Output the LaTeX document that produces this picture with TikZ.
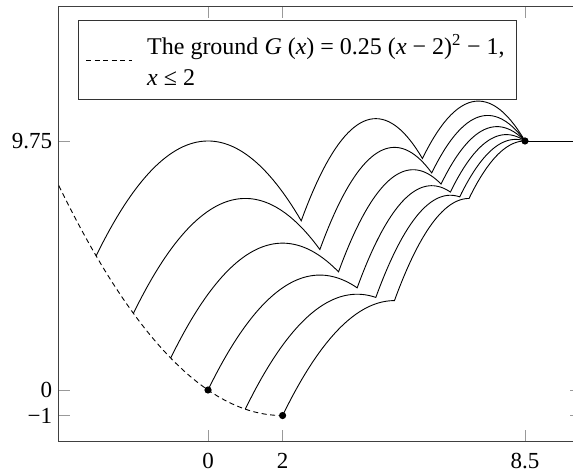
\documentclass[tikz,border=0pt]{standalone}
\usepackage{fontspec}
\setmainfont{Liberation Serif}
\begin{document}
\begin{tikzpicture}[x=37.29pt,y=25.54pt,
  frame/.style={draw=black!75, line width=1.1pt},
  tickmark/.style={draw=black!40, line width=0.9pt},
  traj/.style={draw=black, line width=0.9pt, line join=miter},
  ground/.style={draw=black, line width=0.9pt, dash pattern=on 5pt off 3.5pt},
  dot/.style={fill=black},
  ticklabel/.style={font=\fontsize{23}{27}\selectfont, inner sep=0pt},
  legendbox/.style={draw=black!80, line width=1pt, inner sep=0pt, anchor=north west,
    minimum width=438pt, minimum height=79pt},
  legendtext/.style={font=\fontsize{24}{31}\selectfont, inner sep=0pt, align=left, anchor=west}
]
\useasboundingbox (-5.578,-3.289) rectangle (9.788,15.27);
\clip (-5.578,-3.289) rectangle (9.788,15.27);

% ticks
\foreach \t in {0,2,8.5} {
  \draw[tickmark] (\t,-2) -- ++(0,11pt);
  \draw[tickmark] (\t,15) -- ++(0,-11pt);
}
\foreach \t in {-1,0,9.75} {
  \draw[tickmark] (-4,\t) -- ++(11pt,0);
  \draw[tickmark] (10,\t) -- ++(-11pt,0);
}
% frame
\draw[frame] (-4,-2) rectangle (10,15);

% tick labels
\node[ticklabel, anchor=north] (bx0) at ([yshift=-12pt]0,-2) {0};
\node[ticklabel, anchor=north] (bx2) at ([yshift=-12pt]2,-2) {2};
\node[ticklabel, anchor=north] (bx85) at ([yshift=-12pt]8.5,-2) {8.5};
\node[ticklabel, anchor=east] (ly975) at ([xshift=-6.5pt]-4,9.75) {9.75};
\node[ticklabel, anchor=east] (ly0) at ([xshift=-6.5pt]-4,0) {0};
\node[ticklabel, anchor=east] (lym1) at ([xshift=-6.5pt]-4,-1) {−1};

% ground
\draw[ground] plot[domain=-4:2, samples=80] (\x,{0.25*(\x-2)*(\x-2)-1});

% trajectories
\foreach \xo/\go in {-3/5.25, -2/3, -1/1.25, 0/0, 1/-0.75, 2/-1} {
  \pgfmathsetmacro\pA{\xo+3}
  \pgfmathsetmacro\hA{\go+4.5}
  \pgfmathsetmacro\cA{4+0.5*\xo}
  \pgfmathsetmacro\yA{\hA-0.5*(\cA-\pA)*(\cA-\pA)}
  \pgfmathsetmacro\pB{\cA+2}
  \pgfmathsetmacro\hB{\yA+4}
  \pgfmathsetmacro\cB{6.5+0.25*\xo}
  \pgfmathsetmacro\yB{\hB-(\cB-\pB)*(\cB-\pB)}
  \pgfmathsetmacro\pC{\cB+1.5}
  \pgfmathsetmacro\hC{\yB+2.25}
  \draw[traj] plot[domain=\xo:\cA, samples=60] (\x,{\hA-0.5*(\x-\pA)*(\x-\pA)})
    -- plot[domain=\cA:\cB, samples=40] (\x,{\hB-(\x-\pB)*(\x-\pB)})
    -- plot[domain=\cB:8.5, samples=30] (\x,{\hC-(\x-\pC)*(\x-\pC)});
}

% end line and dots
\coordinate (p0) at (0,0);
\coordinate (p2) at (2,-1);
\coordinate (pend) at (8.5,9.75);
\coordinate (pright) at (10,9.75);
\draw[traj] (pend) -- (pright);
\fill[dot] (p0) circle (3.6pt);
\fill[dot] (p2) circle (3.6pt);
\fill[dot] (pend) circle (3.6pt);

% legend
\node[legendbox, fill=white] (legend) at (-3.486,14.487) {};
\coordinate (ls) at ([xshift=8pt]legend.west);
\coordinate (le) at ([xshift=54pt]legend.west);
\draw[ground] (ls) -- (le);
\node[legendtext] (ltext) at ([xshift=69pt]legend.west)
  {The ground \textit{G} (\textit{x}) = 0.25 (\textit{x} − 2)\textsuperscript{2} − 1,\\ \textit{x} ≤ 2};
\end{tikzpicture}
\end{document}
